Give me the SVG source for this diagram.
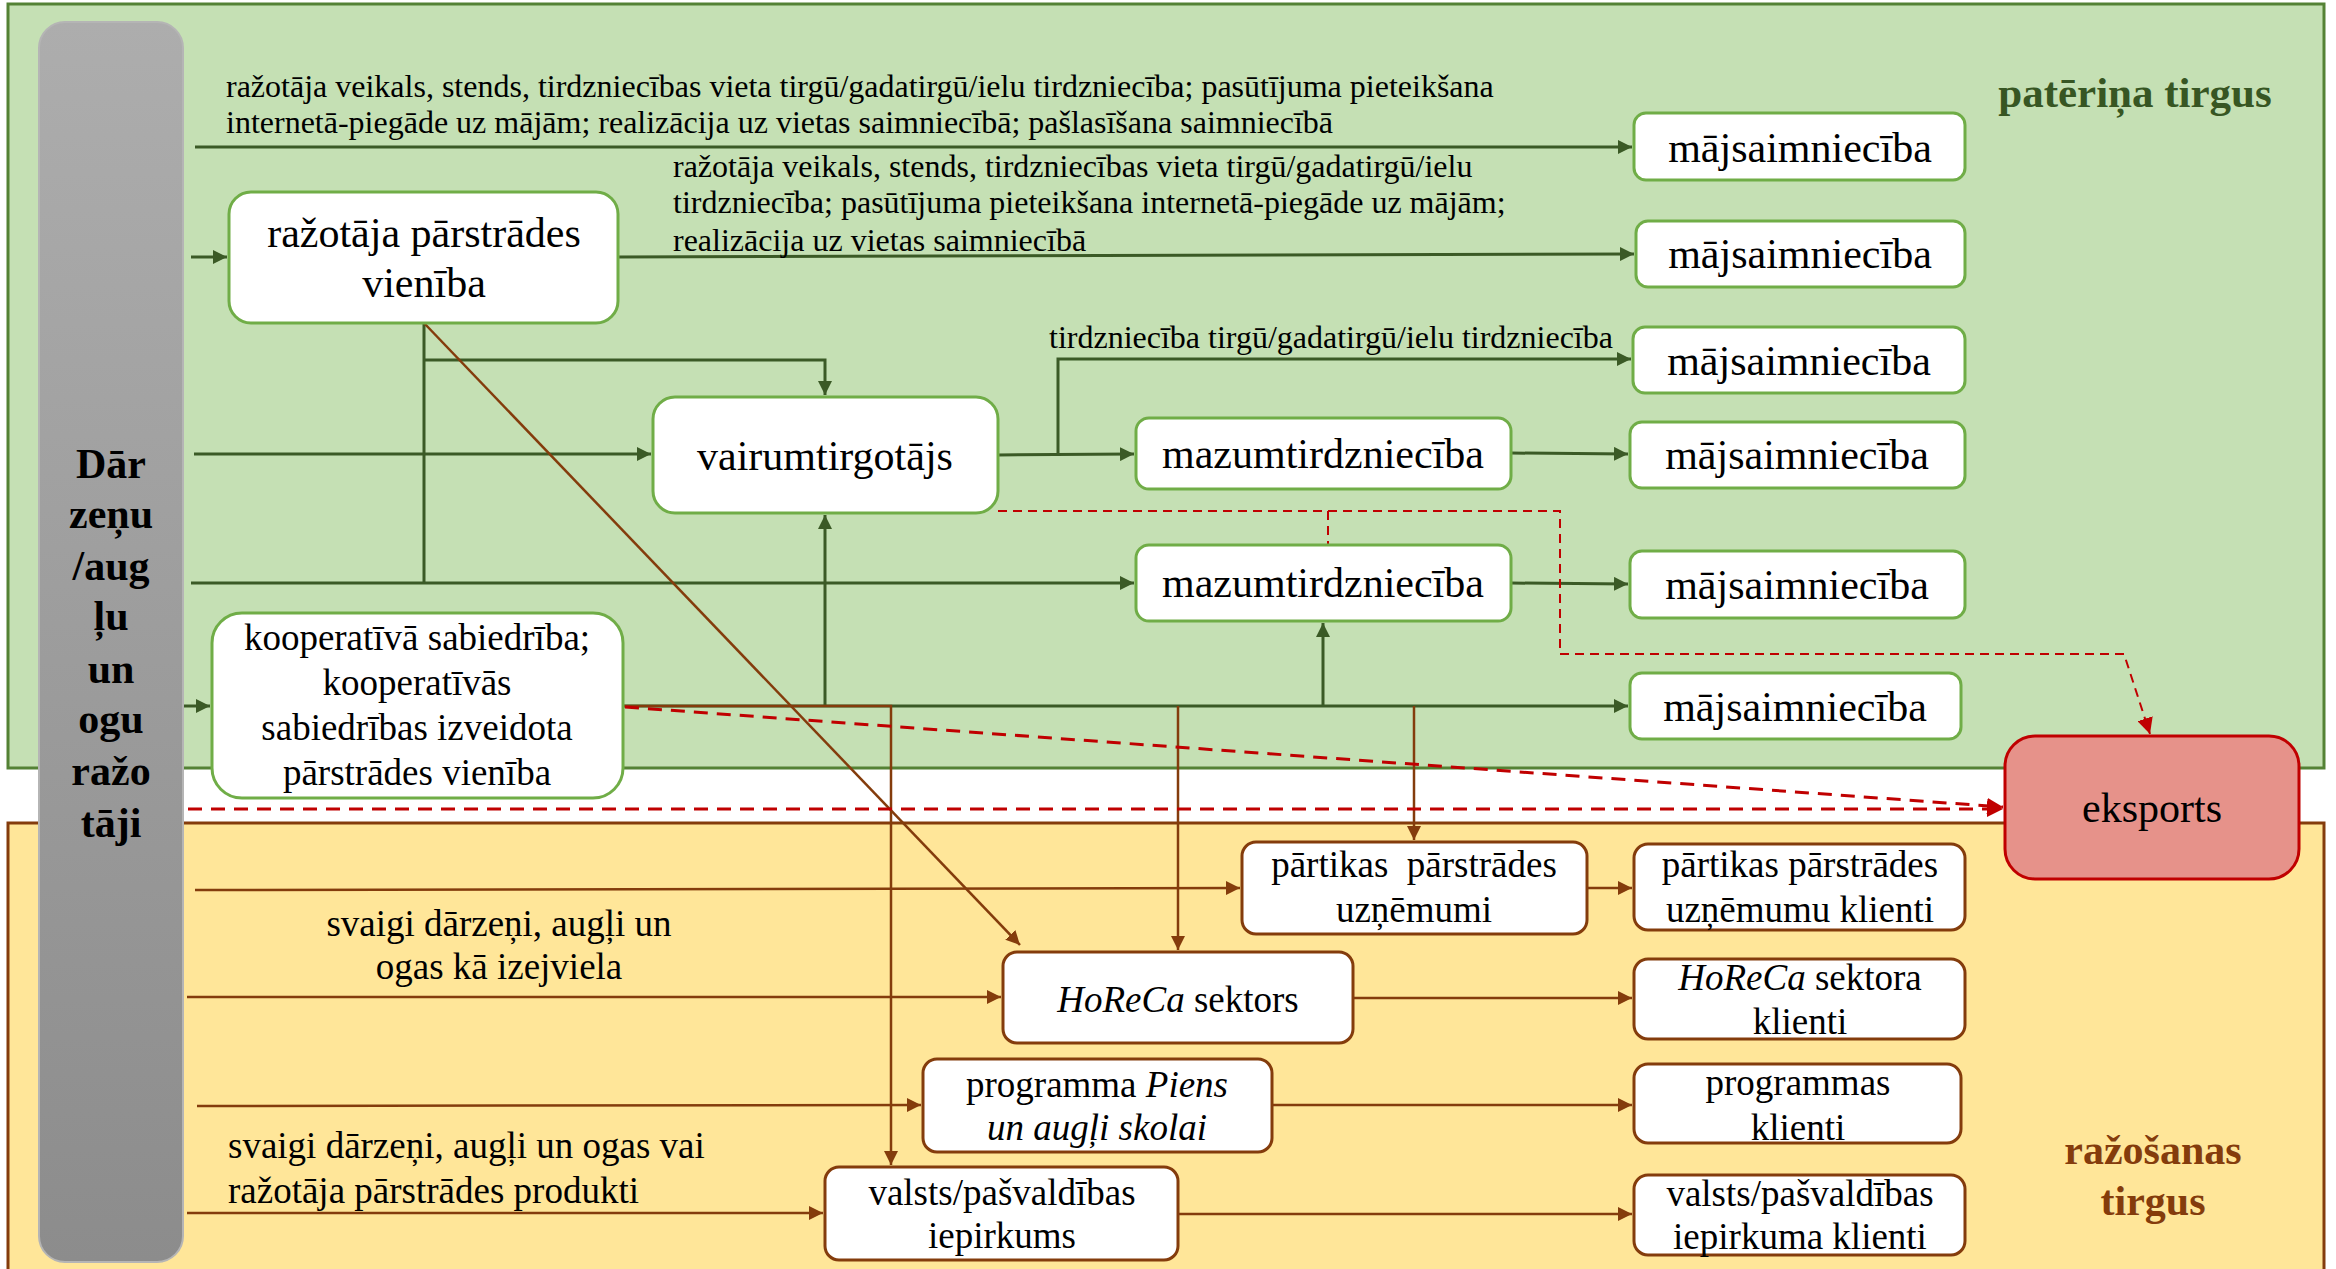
<svg xmlns="http://www.w3.org/2000/svg" width="2336" height="1269" viewBox="0 0 2336 1269">
<style>
.t{font-family:"Liberation Serif","Times New Roman",serif;fill:#000}
.c{text-anchor:middle}
.f42{font-size:42px}
.f37{font-size:37px}
.f32{font-size:32px}
.gbox{fill:#fff;stroke:#70ad47;stroke-width:3}
.bbox{fill:#fff;stroke:#843c0c;stroke-width:3}
.cg{fill:none;stroke:#3b5a26;stroke-width:3}
.cb{fill:none;stroke:#843c0c;stroke-width:2.5}
.cr{fill:none;stroke:#c00000;stroke-width:3;stroke-dasharray:14 9}
.cr2{fill:none;stroke:#c00000;stroke-width:2;stroke-dasharray:9 6}
</style>
<defs>
<linearGradient id="gray" x1="0" y1="0" x2="0" y2="1">
<stop offset="0" stop-color="#adadad"/>
<stop offset="1" stop-color="#8c8c8c"/>
</linearGradient>
<marker id="ag" viewBox="0 0 10 10" refX="10" refY="5" markerWidth="14" markerHeight="14" markerUnits="userSpaceOnUse" orient="auto"><path d="M0,0 L10,5 L0,10 z" fill="#3b5a26"/></marker>
<marker id="ab" viewBox="0 0 10 10" refX="10" refY="5" markerWidth="14" markerHeight="14" markerUnits="userSpaceOnUse" orient="auto"><path d="M0,0 L10,5 L0,10 z" fill="#843c0c"/></marker>
<marker id="ar" viewBox="0 0 10 10" refX="10" refY="5" markerWidth="16" markerHeight="16" markerUnits="userSpaceOnUse" orient="auto"><path d="M0,0 L10,5 L0,10 z" fill="#c00000"/></marker>
</defs>
<rect width="2336" height="1269" fill="#fff"/>
<g id="panel-consumption">
<rect x="8" y="4" width="2316" height="764" fill="#c5e0b4" stroke="#548235" stroke-width="3"/>
<text class="t" x="2135" y="107" text-anchor="middle" font-size="43" font-weight="bold" fill="#375623" style="fill:#375623">patēriņa tirgus</text>
</g>
<g id="panel-production">
<rect x="8" y="823" width="2316" height="460" fill="#ffe699" stroke="#843c0c" stroke-width="3"/>
<text class="t" x="2153" y="1164" text-anchor="middle" font-size="42" font-weight="bold" style="fill:#843c0c">ražošanas</text>
<text class="t" x="2153" y="1215" text-anchor="middle" font-size="42" font-weight="bold" style="fill:#843c0c">tirgus</text>
</g>
<g id="producers">
<rect x="39" y="22" width="144" height="1240" rx="26" fill="url(#gray)" stroke="#b5b5b5" stroke-width="2"/>
<g class="t c" font-size="42" font-weight="bold">
<text x="111" y="478">Dār</text>
<text x="111" y="528">zeņu</text>
<text x="111" y="580">/aug</text>
<text x="111" y="630">ļu</text>
<text x="111" y="683">un</text>
<text x="111" y="733">ogu</text>
<text x="111" y="785">ražo</text>
<text x="111" y="837">tāji</text>
</g>
</g>
<g id="connectors">
<path class="cg" d="M195,147 H1632" marker-end="url(#ag)"/>
<path class="cg" d="M191,257 H227" marker-end="url(#ag)"/>
<path class="cg" d="M618,257 L1634,254" marker-end="url(#ag)"/>
<path class="cg" d="M424,323 V583"/>
<path class="cg" d="M424,360 H825 V395" marker-end="url(#ag)"/>
<path class="cg" d="M194,454 H651" marker-end="url(#ag)"/>
<path class="cg" d="M191,583 H1134" marker-end="url(#ag)"/>
<path class="cg" d="M998,455 L1134,454" marker-end="url(#ag)"/>
<path class="cg" d="M1058,455 V359 H1631" marker-end="url(#ag)"/>
<path class="cg" d="M1511,453 L1628,454" marker-end="url(#ag)"/>
<path class="cg" d="M1511,583 L1628,584" marker-end="url(#ag)"/>
<path class="cg" d="M184,706 H210" marker-end="url(#ag)"/>
<path class="cg" d="M623,706 H1628" marker-end="url(#ag)"/>
<path class="cg" d="M825,706 V515" marker-end="url(#ag)"/>
<path class="cg" d="M1323,706 V623" marker-end="url(#ag)"/>
<path class="cb" d="M424,323 L1020,945" marker-end="url(#ab)"/>
<path class="cb" d="M623,706 H891 V1165" marker-end="url(#ab)"/>
<path class="cb" d="M1178,706 V950" marker-end="url(#ab)"/>
<path class="cb" d="M1414,706 V840" marker-end="url(#ab)"/>
<path class="cb" d="M195,890 L1240,888" marker-end="url(#ab)"/>
<path class="cb" d="M187,997 H1001" marker-end="url(#ab)"/>
<path class="cb" d="M197,1106 L921,1105" marker-end="url(#ab)"/>
<path class="cb" d="M187,1213 H823" marker-end="url(#ab)"/>
<path class="cb" d="M1587,888 H1632" marker-end="url(#ab)"/>
<path class="cb" d="M1353,998 H1632" marker-end="url(#ab)"/>
<path class="cb" d="M1272,1105 H1632" marker-end="url(#ab)"/>
<path class="cb" d="M1178,1214 H1632" marker-end="url(#ab)"/>
<path class="cr2" d="M998,511 H1560 V654 H2124 L2150,734" marker-end="url(#ar)"/>
<path class="cr2" d="M1328,511 V545"/>
<path class="cr" d="M625,707 L2003,807" marker-end="url(#ar)"/>
<path class="cr" d="M188,809 H2003" marker-end="url(#ar)"/>
<g class="t f32">
<text x="226" y="97">ražotāja veikals, stends, tirdzniecības vieta tirgū/gadatirgū/ielu tirdzniecība; pasūtījuma pieteikšana</text>
<text x="226" y="133">internetā-piegāde uz mājām; realizācija uz vietas saimniecībā; pašlasīšana saimniecībā</text>
<text x="673" y="177">ražotāja veikals, stends, tirdzniecības vieta tirgū/gadatirgū/ielu</text>
<text x="673" y="213">tirdzniecība; pasūtījuma pieteikšana internetā-piegāde uz mājām;</text>
<text x="673" y="251">realizācija uz vietas saimniecībā</text>
<text x="1049" y="348">tirdzniecība tirgū/gadatirgū/ielu tirdzniecība</text>
</g>
<g class="t f37">
<text x="499" y="936" text-anchor="middle">svaigi dārzeņi, augļi un</text>
<text x="499" y="979" text-anchor="middle">ogas kā izejviela</text>
<text x="228" y="1158">svaigi dārzeņi, augļi un ogas vai</text>
<text x="228" y="1203">ražotāja pārstrādes produkti</text>
</g>
</g>
<g id="razotaja-parstrades">
<rect class="gbox" x="229" y="192" width="389" height="131" rx="22"/>
<text class="t c f42" x="424" y="247">ražotāja pārstrādes</text>
<text class="t c f42" x="424" y="297">vienība</text>
</g>
<g id="vairumtirgotajs">
<rect class="gbox" x="653" y="397" width="345" height="116" rx="22"/>
<text class="t c f42" x="825" y="470">vairumtirgotājs</text>
</g>
<g id="mazumtirdznieciba-1">
<rect class="gbox" x="1136" y="418" width="375" height="71" rx="13"/>
<text class="t c f42" x="1323" y="468">mazumtirdzniecība</text>
</g>
<g id="mazumtirdznieciba-2">
<rect class="gbox" x="1136" y="545" width="375" height="76" rx="13"/>
<text class="t c f42" x="1323" y="597">mazumtirdzniecība</text>
</g>
<g id="kooperativa">
<rect class="gbox" x="212" y="613" width="411" height="185" rx="30"/>
<g class="t c f37">
<text x="417" y="650">kooperatīvā sabiedrība;</text>
<text x="417" y="695">kooperatīvās</text>
<text x="417" y="740">sabiedrības izveidota</text>
<text x="417" y="785">pārstrādes vienība</text>
</g>
</g>
<g id="majsaimnieciba-1">
<rect class="gbox" x="1634" y="113" width="331" height="67" rx="12"/>
<text class="t c f42" x="1800" y="162">mājsaimniecība</text>
</g>
<g id="majsaimnieciba-2">
<rect class="gbox" x="1636" y="221" width="329" height="66" rx="12"/>
<text class="t c f42" x="1800" y="268">mājsaimniecība</text>
</g>
<g id="majsaimnieciba-3">
<rect class="gbox" x="1633" y="327" width="332" height="66" rx="12"/>
<text class="t c f42" x="1799" y="375">mājsaimniecība</text>
</g>
<g id="majsaimnieciba-4">
<rect class="gbox" x="1630" y="422" width="335" height="66" rx="12"/>
<text class="t c f42" x="1797" y="469">mājsaimniecība</text>
</g>
<g id="majsaimnieciba-5">
<rect class="gbox" x="1630" y="551" width="335" height="67" rx="12"/>
<text class="t c f42" x="1797" y="599">mājsaimniecība</text>
</g>
<g id="majsaimnieciba-6">
<rect class="gbox" x="1630" y="673" width="331" height="66" rx="12"/>
<text class="t c f42" x="1795" y="721">mājsaimniecība</text>
</g>
<g id="eksports">
<rect x="2005" y="736" width="294" height="143" rx="30" fill="#e6928a" stroke="#c00000" stroke-width="3"/>
<text class="t c f42" x="2152" y="822">eksports</text>
</g>
<g id="partikas-parstrades">
<rect class="bbox" x="1242" y="842" width="345" height="92" rx="14"/>
<text class="t c f37" x="1414" y="877" xml:space="preserve">pārtikas  pārstrādes</text>
<text class="t c f37" x="1414" y="922">uzņēmumi</text>
</g>
<g id="horeca">
<rect class="bbox" x="1003" y="952" width="350" height="91" rx="14"/>
<text class="t c f37" x="1178" y="1012"><tspan font-style="italic">HoReCa</tspan> sektors</text>
</g>
<g id="programma">
<rect class="bbox" x="923" y="1059" width="349" height="93" rx="14"/>
<text class="t c f37" x="1097" y="1097">programma <tspan font-style="italic">Piens</tspan></text>
<text class="t c f37" x="1097" y="1140" font-style="italic">un augļi skolai</text>
</g>
<g id="valsts-iepirkums">
<rect class="bbox" x="825" y="1167" width="353" height="93" rx="14"/>
<text class="t c f37" x="1002" y="1205">valsts/pašvaldības</text>
<text class="t c f37" x="1002" y="1248">iepirkums</text>
</g>
<g id="partikas-klienti">
<rect class="bbox" x="1634" y="844" width="331" height="86" rx="14"/>
<text class="t c f37" x="1800" y="877">pārtikas pārstrādes</text>
<text class="t c f37" x="1800" y="922">uzņēmumu klienti</text>
</g>
<g id="horeca-klienti">
<rect class="bbox" x="1634" y="959" width="331" height="80" rx="14"/>
<text class="t c f37" x="1800" y="990"><tspan font-style="italic">HoReCa</tspan> sektora</text>
<text class="t c f37" x="1800" y="1034">klienti</text>
</g>
<g id="programmas-klienti">
<rect class="bbox" x="1634" y="1064" width="327" height="79" rx="14"/>
<text class="t c f37" x="1798" y="1095">programmas</text>
<text class="t c f37" x="1798" y="1140">klienti</text>
</g>
<g id="valsts-klienti">
<rect class="bbox" x="1634" y="1175" width="331" height="80" rx="14"/>
<text class="t c f37" x="1800" y="1206">valsts/pašvaldības</text>
<text class="t c f37" x="1800" y="1249">iepirkuma klienti</text>
</g>
</svg>
